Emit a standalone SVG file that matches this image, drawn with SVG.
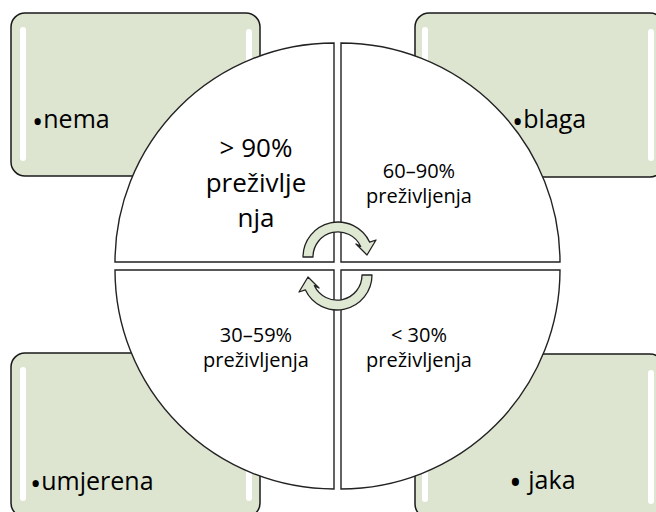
<svg xmlns="http://www.w3.org/2000/svg" width="656" height="512" viewBox="0 0 656 512">
<style>
.box{fill:#dde5d1;stroke:#1a1a1a;stroke-width:1.5}
.hl{fill:#ffffff}
.q{fill:#ffffff;stroke:#222;stroke-width:1.4}
.arr{fill:#dfe8d3;stroke:#222;stroke-width:1.3;stroke-linejoin:round}
.lbl{font-family:"Open Sans","Noto Sans",sans-serif;font-size:25px;fill:#000}
.bul{font-size:30px}
.big{font-family:"Open Sans","Noto Sans",sans-serif;font-size:26px;fill:#000;text-anchor:middle}
.sm{font-family:"Open Sans","Noto Sans",sans-serif;font-size:20px;fill:#000;text-anchor:middle}
</style>
<rect width="656" height="512" fill="#ffffff"/>
<g id="box-nema">
<rect class="box" x="11" y="13" width="249" height="163" rx="14"/>
<rect class="hl" x="20" y="27" width="6" height="134" rx="3"/>
<rect class="hl" x="246" y="29" width="6" height="132" rx="3"/>
</g>
<g id="box-blaga">
<rect class="box" x="415" y="13" width="249" height="164" rx="14"/>
<rect class="hl" x="422" y="27" width="6" height="134" rx="3"/>
<rect class="hl" x="648" y="29" width="6" height="132" rx="3"/>
</g>
<g id="box-umjerena">
<rect class="box" x="11" y="353" width="249" height="164" rx="14"/>
<rect class="hl" x="20" y="367" width="6" height="134" rx="3"/>
<rect class="hl" x="246" y="369" width="6" height="132" rx="3"/>
</g>
<g id="box-jaka">
<rect class="box" x="415" y="354" width="249" height="164" rx="14"/>
<rect class="hl" x="422" y="368" width="6" height="134" rx="3"/>
<rect class="hl" x="648" y="370" width="6" height="134" rx="3"/>
</g>
<g id="q-tl">
<path class="q" d="M334,262 L115,262 A219,219 0 0 1 334,43 Z"/>
<text class="big" x="256" y="157">&gt; 90%</text>
<text class="big" x="256" y="192">preživlje</text>
<text class="big" x="256" y="227">nja</text>
</g>
<g id="q-tr">
<path class="q" d="M341,262 L341,43 A219,219 0 0 1 560,262 Z"/>
<text class="sm" x="419" y="178">60–90%</text>
<text class="sm" x="419" y="203">preživljenja</text>
</g>
<g id="q-bl">
<path class="q" d="M334,270 L334,489 A219,219 0 0 1 115,270 Z"/>
<text class="sm" x="256" y="342">30–59%</text>
<text class="sm" x="256" y="367">preživljenja</text>
</g>
<g id="q-br">
<path class="q" d="M341,270 L560,270 A219,219 0 0 1 341,489 Z"/>
<text class="sm" x="419" y="342">&lt; 30%</text>
<text class="sm" x="419" y="367">preživljenja</text>
</g>
<g id="connectors">
<path class="arr" d="M303,257 A35,35 0 0 1 369.7,242.2 L376,240 L367,255 L356,244 L360.7,246.4 A25,25 0 0 0 313,257 Z"/>
<path class="arr" transform="rotate(180 337.5 266)" d="M303,257 A35,35 0 0 1 369.7,242.2 L376,240 L367,255 L356,244 L360.7,246.4 A25,25 0 0 0 313,257 Z"/>
</g>
<g id="labels">
<text class="lbl" x="32" y="128"><tspan class="bul" dy="4">•</tspan><tspan dy="-4">nema</tspan></text>
<text class="lbl" x="512" y="128"><tspan class="bul" dy="4">•</tspan><tspan dy="-4">blaga</tspan></text>
<text class="lbl" x="30" y="490"><tspan class="bul" dy="4">•</tspan><tspan dy="-4">umjerena</tspan></text>
<text class="lbl" x="509" y="489"><tspan font-size="34" dy="6">•</tspan><tspan dy="-6"> jaka</tspan></text>
</g>
</svg>
